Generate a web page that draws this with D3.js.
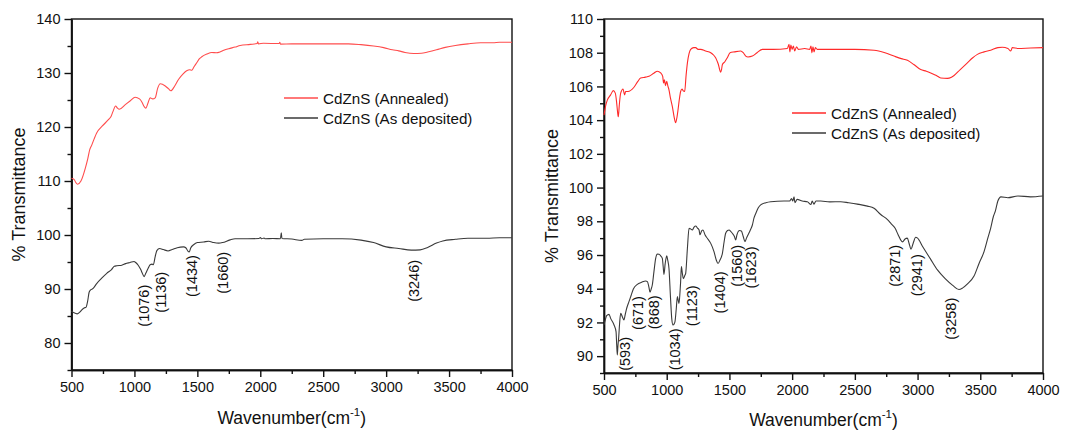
<!DOCTYPE html>
<html>
<head>
<meta charset="utf-8">
<script src="https://cdn.jsdelivr.net/npm/d3@7"></script>
<style>
  body { margin: 0; background: #fff; }
  svg { display: block; font-family: "Liberation Sans", Arial, sans-serif; }
</style>
</head>
<body>
<svg id="chart" width="1075" height="430"></svg>
<script>
// ── Data ──────────────────────────────────────────────────────
const seriesNames = ["CdZnS (Annealed)", "CdZnS (As deposited)"];

// left panel: [wavenumber, % transmittance]
const leftAnnealed = [
  [500,110.5],[520,110.3],[535,109.7],[548,109.4],[575,110.0],[610,112.4],[630,114.2],[645,115.8],
  [660,116.6],[680,117.8],[700,118.9],[745,120.2],[795,121.4],[815,122.0],[830,122.9],[850,123.9],
  [865,123.5],[880,123.3],[930,124.2],[970,124.9],[1005,125.5],[1040,125.2],[1060,124.6],[1077,123.8],
  [1090,123.5],[1110,124.6],[1125,125.4],[1145,125.2],[1165,125.4],[1185,127.2],[1205,128.0],
  [1245,127.6],[1270,127.1],[1290,126.7],[1320,127.6],[1350,128.8],[1385,129.8],[1415,130.4],
  [1440,130.6],[1455,130.5],[1475,131.2],[1495,131.9],[1515,132.6],[1535,133.0],[1575,133.5],
  [1615,133.8],[1650,133.75],[1680,133.9],[1710,134.2],[1750,134.5],[1800,134.8],[1840,135.1],
  [1920,135.3],[1975,135.45],[1980,135.8],[1986,135.4],[2025,135.5],[2150,135.45],[2155,135.7],
  [2160,135.35],[2250,135.4],[2450,135.4],[2700,135.4],[2800,135.25],[2900,135.0],[2980,134.7],
  [3050,134.3],[3100,134.1],[3150,133.8],[3220,133.6],[3280,133.65],[3330,133.9],[3400,134.3],
  [3470,134.75],[3550,135.1],[3650,135.4],[3750,135.6],[3850,135.6],[3900,135.7],[4000,135.7]
];
const leftDeposited = [
  [500,85.9],[520,85.6],[545,85.4],[565,85.7],[580,86.1],[600,86.5],[615,86.6],[628,87.7],[640,89.4],
  [650,89.8],[672,90.1],[700,91.0],[740,92.0],[780,92.9],[818,93.6],[840,94.2],[860,94.3],[900,94.4],
  [930,94.7],[965,94.9],[997,95.1],[1010,94.9],[1030,94.4],[1050,93.6],[1065,92.8],[1077,92.3],
  [1090,92.9],[1110,93.9],[1125,94.5],[1140,94.6],[1150,94.5],[1165,96.0],[1178,97.1],[1200,97.5],
  [1230,97.3],[1267,97.05],[1300,97.3],[1340,97.65],[1390,97.8],[1410,97.6],[1425,97.0],[1435,96.85],
  [1447,97.6],[1470,98.2],[1500,98.6],[1550,98.7],[1590,98.85],[1630,98.6],[1670,98.5],[1700,98.6],
  [1760,99.1],[1800,99.3],[1900,99.3],[1990,99.35],[2000,99.55],[2010,99.3],[2030,99.45],[2040,99.3],
  [2100,99.35],[2160,99.3],[2167,100.4],[2172,99.35],[2250,99.25],[2330,99.0],[2350,99.2],[2500,99.3],
  [2650,99.3],[2800,99.05],[2900,98.6],[3000,97.8],[3100,97.5],[3200,97.2],[3270,97.25],[3330,97.7],
  [3400,98.5],[3450,98.9],[3550,99.2],[3650,99.4],[3800,99.4],[3900,99.5],[4000,99.5]
];

// right panel
const rightAnnealed = [
  [500,104.3],[515,104.9],[527,105.2],[553,105.5],[574,105.75],[590,105.6],[600,105.1],[608,104.5],
  [614,104.2],[622,104.9],[633,105.6],[652,105.85],[660,105.6],[665,105.5],[672,105.7],[691,105.7],
  [739,105.95],[770,106.3],[792,106.5],[830,106.55],[859,106.6],[900,106.8],[925,106.9],[952,106.8],
  [968,106.6],[975,106.2],[982,106.4],[990,106.05],[1000,106.3],[1010,106.0],[1018,105.8],[1030,105.3],
  [1045,104.8],[1060,104.15],[1071,103.85],[1080,104.1],[1090,104.6],[1100,105.2],[1111,105.7],
  [1122,105.85],[1130,105.75],[1143,105.7],[1155,106.7],[1165,107.4],[1178,107.95],[1191,108.2],
  [1215,108.3],[1231,108.3],[1250,108.2],[1271,108.2],[1310,108.1],[1351,108.0],[1375,107.85],
  [1390,107.7],[1402,107.5],[1412,107.3],[1422,107.0],[1430,106.85],[1437,107.0],[1444,107.3],
  [1462,107.45],[1483,107.7],[1505,108.0],[1540,108.05],[1590,108.1],[1610,108.0],[1630,107.8],
  [1648,107.75],[1683,107.8],[1720,108.0],[1763,108.2],[1850,108.2],[1962,108.25],[1975,108.5],
  [1982,108.05],[1990,108.45],[2000,108.2],[2010,108.4],[2020,108.1],[2035,108.35],[2050,108.2],
  [2100,108.25],[2140,108.2],[2150,108.4],[2158,108.0],[2166,108.35],[2175,108.05],[2185,108.3],
  [2200,108.2],[2300,108.2],[2500,108.2],[2653,108.15],[2740,108.0],[2812,107.8],[2870,107.65],
  [2919,107.55],[2970,107.3],[3025,107.0],[3070,106.9],[3105,106.8],[3150,106.65],[3185,106.5],
  [3238,106.48],[3270,106.55],[3291,106.65],[3340,107.0],[3397,107.4],[3440,107.7],[3477,107.9],
  [3530,108.05],[3583,108.15],[3640,108.3],[3676,108.32],[3720,108.25],[3743,108.1],[3755,108.3],
  [3800,108.25],[3900,108.28],[4000,108.3]
];
const rightDeposited = [
  [500,91.85],[512,92.2],[521,92.4],[540,92.48],[553,92.24],[580,91.85],[596,91.45],[601,90.7],
  [606,90.07],[611,90.6],[617,91.1],[625,92.0],[633,92.54],[646,92.34],[659,92.15],[670,92.5],
  [681,92.84],[699,93.23],[716,93.6],[734,93.98],[766,94.26],[800,94.38],[832,94.46],[846,94.42],
  [858,94.1],[867,93.79],[877,94.0],[885,94.22],[898,95.0],[912,95.8],[925,96.05],[939,96.04],
  [952,95.95],[965,95.8],[972,95.3],[978,94.85],[988,95.5],[1000,95.95],[1008,95.7],[1018,95.2],
  [1030,93.5],[1040,92.24],[1050,91.85],[1058,91.9],[1066,92.05],[1076,92.8],[1085,93.53],[1092,93.3],
  [1098,93.13],[1106,93.8],[1111,94.42],[1117,95.31],[1125,94.9],[1133,94.6],[1145,94.8],[1151,94.9],
  [1165,96.4],[1178,97.58],[1190,97.55],[1204,97.48],[1218,97.65],[1231,97.72],[1245,97.6],
  [1258,97.48],[1265,97.2],[1271,97.29],[1280,97.45],[1289,97.48],[1305,97.2],[1324,96.99],
  [1351,96.69],[1377,96.2],[1395,95.7],[1409,95.5],[1425,95.7],[1444,96.1],[1458,96.8],[1470,97.29],
  [1485,97.45],[1497,97.48],[1510,97.4],[1523,97.29],[1540,97.1],[1550,96.89],[1560,97.2],
  [1569,97.38],[1582,97.45],[1595,97.42],[1610,97.1],[1624,96.79],[1636,97.0],[1648,97.19],
  [1665,97.45],[1683,97.78],[1696,98.2],[1709,98.45],[1730,98.8],[1749,98.97],[1790,99.1],
  [1829,99.16],[1935,99.2],[1980,99.2],[1995,99.35],[2005,99.2],[2015,99.45],[2022,99.1],[2040,99.3],
  [2080,99.2],[2121,99.16],[2150,99.0],[2160,99.2],[2174,99.02],[2190,99.2],[2228,99.2],[2300,99.15],
  [2387,99.16],[2450,99.1],[2520,99.02],[2600,98.9],[2653,98.77],[2706,98.4],[2760,98.1],[2790,97.85],
  [2820,97.6],[2845,97.2],[2865,96.9],[2880,96.78],[2900,96.95],[2918,97.0],[2932,96.7],[2948,96.35],
  [2965,96.7],[2985,97.05],[3000,97.0],[3040,96.5],[3100,95.8],[3160,95.1],[3220,94.6],[3280,94.2],
  [3330,93.95],[3360,94.05],[3400,94.3],[3450,94.75],[3490,95.5],[3530,96.2],[3560,97.0],[3583,97.6],
  [3605,98.3],[3620,98.6],[3640,99.2],[3665,99.45],[3720,99.4],[3800,99.5],[3900,99.45],[4000,99.5]
];

// peak annotations: label, anchor wavenumber, anchor transmittance
const leftPeakLabels = ["(1076)", "(1136)", "(1434)", "(1660)", "(3246)"];
const leftPeakX = [1077, 1209, 1458, 1704, 3220];
const leftPeakY = [86.9, 89.4, 92.4, 93.0, 91.5];

const rightPeakLabels = ["(593)", "(671)", "(868)", "(1034)", "(1123)", "(1404)", "(1560)", "(1623)", "(2871)", "(2941)", "(3258)"];
const rightPeakX = [662, 770, 897, 1062, 1200, 1420, 1555, 1673, 2818, 2990, 3268];
const rightPeakY = [90.13, 92.56, 92.6, 90.4, 92.99, 93.78, 95.36, 95.26, 95.36, 94.8, 92.22];

const xTicks = [500, 1000, 1500, 2000, 2500, 3000, 3500, 4000];
const xMinorTicks = [750, 1250, 1750, 2250, 2750, 3250, 3750];
const leftYTicks = [80, 90, 100, 110, 120, 130, 140];
const leftYMinor = [75, 85, 95, 105, 115, 125, 135];
const rightYTicks = [90, 92, 94, 96, 98, 100, 102, 104, 106, 108, 110];
const rightYMinor = [89, 91, 93, 95, 97, 99, 101, 103, 105, 107, 109];

// ── Drawing ───────────────────────────────────────────────────
const svg = d3.select("#chart");
const fmt = d3.format("d");

function drawPanel(p) {
  const x = d3.scaleLinear().domain([500, 4000]).range([p.left, p.right]);
  const y = d3.scaleLinear().domain(p.yDomain).range([p.bottom, p.top]);
  const g = svg.append("g");

  // minor ticks first, then major axes
  g.append("g").attr("transform", `translate(0,${p.bottom})`)
    .call(d3.axisBottom(x).tickValues(xMinorTicks).tickSize(4).tickFormat("").tickSizeOuter(0));
  g.append("g").attr("transform", `translate(${p.left},0)`)
    .call(d3.axisLeft(y).tickValues(p.yMinor).tickSize(4).tickFormat("").tickSizeOuter(0));

  g.append("g").attr("transform", `translate(0,${p.bottom})`)
    .call(d3.axisBottom(x).tickValues(xTicks).tickFormat(fmt).tickSize(7).tickPadding(5).tickSizeOuter(0));
  g.append("g").attr("transform", `translate(${p.left},0)`)
    .call(d3.axisLeft(y).tickValues(p.yTicks).tickFormat(fmt).tickSize(7).tickPadding(4).tickSizeOuter(0));

  g.selectAll(".tick text").attr("font-size", 14.5).attr("fill", "#111")
    .attr("font-family", "Liberation Sans, Arial, sans-serif");
  g.selectAll(".domain, .tick line").attr("stroke", "#111").attr("stroke-width", 1.4);

  // frame
  g.append("rect")
    .attr("x", p.left).attr("y", p.top)
    .attr("width", p.right - p.left).attr("height", p.bottom - p.top)
    .attr("fill", "none").attr("stroke", "#111").attr("stroke-width", 1.4);

  // spectra
  const line = d3.line().x(d => x(d[0])).y(d => y(d[1])).curve(d3.curveMonotoneX);
  p.series.forEach((s, i) => {
    g.append("path").datum(s)
      .attr("d", line)
      .attr("fill", "none")
      .attr("stroke", p.colors[i])
      .attr("stroke-width", 1.1)
      .attr("stroke-linejoin", "round");
  });

  // peak labels (rotated)
  p.peakLabels.forEach((t, i) => {
    g.append("text")
      .attr("transform", `translate(${x(p.peakX[i])},${y(p.peakY[i])}) rotate(-90)`)
      .attr("text-anchor", "middle")
      .attr("dy", "0.36em")
      .attr("font-size", 14.5)
      .attr("fill", "#111")
      .text(t);
  });

  // legend
  seriesNames.forEach((name, i) => {
    const ly = p.legendY + i * 20;
    g.append("line")
      .attr("x1", p.legendX).attr("x2", p.legendX + 34)
      .attr("y1", ly).attr("y2", ly)
      .attr("stroke", p.colors[i]).attr("stroke-width", 1.3);
    g.append("text")
      .attr("x", p.legendX + 39).attr("y", ly + 5.5)
      .attr("font-size", 15.2).attr("fill", "#111")
      .text(name);
  });

  // axis titles
  const xt = g.append("text")
    .attr("x", (p.left + p.right) / 2).attr("y", p.xTitleY)
    .attr("text-anchor", "middle").attr("font-size", 17.5).attr("fill", "#111");
  xt.append("tspan").text("Wavenumber(cm");
  xt.append("tspan").attr("font-size", 11.5).attr("dy", -8).text("-1");
  xt.append("tspan").attr("dy", 8).text(")");

  g.append("text")
    .attr("transform", `translate(${p.yTitleX},${(p.top + p.bottom) / 2}) rotate(-90)`)
    .attr("text-anchor", "middle").attr("font-size", 18).attr("fill", "#111")
    .text("% Transmittance");
}

drawPanel({
  left: 71.5, right: 512, top: 19, bottom: 370,
  yDomain: [75, 140], yTicks: leftYTicks, yMinor: leftYMinor,
  series: [leftAnnealed, leftDeposited], colors: ["#ff4d4d", "#3a3a3a"],
  peakLabels: leftPeakLabels, peakX: leftPeakX, peakY: leftPeakY,
  legendX: 284, legendY: 98, xTitleY: 424, yTitleX: 25
});

drawPanel({
  left: 604, right: 1043, top: 19, bottom: 373,
  yDomain: [89, 110], yTicks: rightYTicks, yMinor: rightYMinor,
  series: [rightAnnealed, rightDeposited], colors: ["#ff2a2a", "#3a3a3a"],
  peakLabels: rightPeakLabels, peakX: rightPeakX, peakY: rightPeakY,
  legendX: 792, legendY: 113, xTitleY: 426, yTitleX: 558
});
</script>
</body>
</html>
